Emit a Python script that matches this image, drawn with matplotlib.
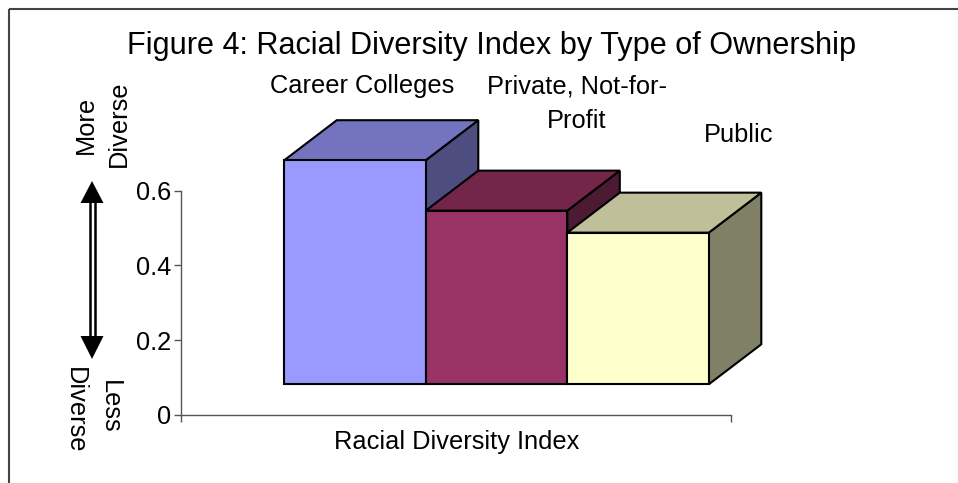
import matplotlib
matplotlib.use("Agg")
import matplotlib.pyplot as plt
from matplotlib.patches import Polygon

plt.rcParams['font.family'] = ['Liberation Sans', 'DejaVu Sans']

# data
categories = ["Career Colleges", "Private, Not-for-\nProfit", "Public"]
values = [0.6, 0.465, 0.406]
ytick_vals = [0, 0.2, 0.4, 0.6]
ytick_labels = ["0", "0.2", "0.4", "0.6"]
front_cols = ["#9999FF", "#993366", "#FFFFCC"]
top_cols = ["#7373BF", "#732649", "#BFBF99"]
side_cols = ["#4D4D80", "#4D1A33", "#808066"]

W, H = 958, 483
fig = plt.figure(figsize=(W / 100, H / 100), dpi=100)

# pixel overlay for frame, labels and the arrow
over = fig.add_axes([0, 0, 1, 1], zorder=0)
over.set_xlim(0, W)
over.set_ylim(H, 0)
over.axis("off")
over.plot([9, 9], [9, H], color="#444444", lw=1.5, solid_capstyle="butt")
over.plot([9, W], [9, 9], color="#444444", lw=1.5, solid_capstyle="butt")

# chart axes, x in bar widths
ax_l, ax_r, ax_t, ax_b = 181, 731, 190.6, 414.7
ax = fig.add_axes([ax_l / W, 1 - ax_b / H, (ax_r - ax_l) / W, (ax_b - ax_t) / H], zorder=1)
ax.patch.set_alpha(0)
bar_px = 141.5
ax.set_xlim(0, (ax_r - ax_l) / bar_px)
ax.set_ylim(0, 0.6)
for s in ["top", "right"]:
    ax.spines[s].set_visible(False)
for s in ["left", "bottom"]:
    ax.spines[s].set_color("#555555")
    ax.spines[s].set_linewidth(1)
ax.set_yticks(ytick_vals)
ax.set_yticklabels(ytick_labels, fontsize=18.3, color="black")
ax.tick_params(axis="y", length=5, width=1, color="#555555", pad=2)
ax.set_xticks([0, (ax_r - ax_l) / bar_px])
ax.set_xticklabels(["", ""])
ax.tick_params(axis="x", length=5, width=1, color="#555555")

floor = 30.4 / 373.5
dx = 52.5 / bar_px
dy = 40 / 373.5
start = (284.3 - ax_l) / bar_px
for i, v in enumerate(values):
    x0 = start + i
    x1 = x0 + 1
    y0 = floor
    y1 = floor + v
    side = [(x1, y0), (x1 + dx, y0 + dy), (x1 + dx, y1 + dy), (x1, y1)]
    top = [(x0, y1), (x0 + dx, y1 + dy), (x1 + dx, y1 + dy), (x1, y1)]
    ax.add_patch(Polygon(side, fc=side_cols[i], ec="black", lw=1.5, clip_on=False, zorder=3 + i, joinstyle="miter"))
    ax.add_patch(Polygon(top, fc=top_cols[i], ec="black", lw=1.5, clip_on=False, zorder=3 + i, joinstyle="miter"))
    ax.bar(x0 + 0.5, v, width=1, bottom=y0, color=front_cols[i], edgecolor="black", lw=1.5, clip_on=False, zorder=3 + i)

# text on top
over.set_zorder(2)
over.patch.set_alpha(0)
over.text(492, 46, "Figure 4: Racial Diversity Index by Type of Ownership", fontsize=22.1, ha="center", va="center")
over.text(362, 86, categories[0], fontsize=18.3, ha="center", va="center")
over.text(577, 104, categories[1], fontsize=18.3, ha="center", va="center", linespacing=1.55)
over.text(739, 135, categories[2], fontsize=18.3, ha="center", va="center")
over.text(457, 442, "Racial Diversity Index", fontsize=18.3, ha="center", va="center")
over.text(86, 125, "More", fontsize=18.3, rotation=90, ha="center", va="center")
over.text(119, 124, "Diverse", fontsize=18.3, rotation=90, ha="center", va="center")
over.text(110, 407, "Less", fontsize=18.3, rotation=270, ha="center", va="center")
over.text(75, 410, "Diverse", fontsize=18.3, rotation=270, ha="center", va="center")

# double shafted arrow
for xs in [90, 94.7]:
    over.plot([xs, xs], [200, 340], color="black", lw=1.8, solid_capstyle="butt")
over.add_patch(Polygon([(92, 181), (80.5, 203), (103.5, 203)], fc="black", ec="none"))
over.add_patch(Polygon([(92, 359), (80.5, 336), (103.5, 336)], fc="black", ec="none"))

fig.savefig("out.png", dpi=100)
